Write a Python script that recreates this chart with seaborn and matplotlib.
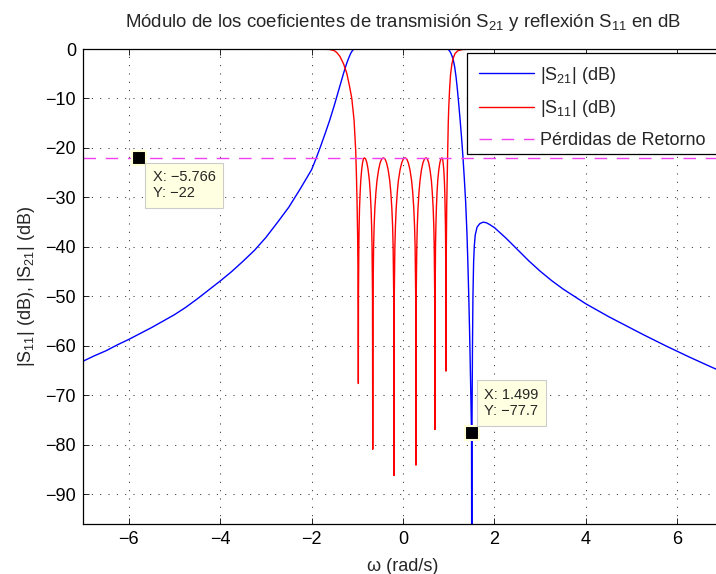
import matplotlib
matplotlib.use("Agg")
import matplotlib.pyplot as plt
from matplotlib.patches import Rectangle
import pandas as pd
import seaborn as sns

# |S21| in dB versus normalized frequency
s21_w = [-7.0, -6.75, -6.5, -6.25, -6.0, -5.75, -5.5, -5.25, -5.0, -4.75, -4.5,
         -4.25, -4.0, -3.75, -3.5, -3.25, -3.0, -2.75, -2.5, -2.25, -2.0, -1.9,
         -1.8, -1.7, -1.6, -1.5, -1.4, -1.3, -1.25, -1.2, -1.15, -1.12, -1.09,
         -1.06, -0.5, 0.0, 0.5, 0.96, 0.99, 1.02, 1.05, 1.08, 1.10, 1.13, 1.16,
         1.19, 1.22, 1.25, 1.28, 1.31, 1.34, 1.37, 1.40, 1.42, 1.44, 1.46, 1.48,
         1.499, 1.505, 1.51, 1.52, 1.53, 1.545, 1.56, 1.58, 1.62, 1.68, 1.75,
         1.82, 1.9, 2.0, 2.25, 2.5, 2.75, 3.0, 3.25, 3.5, 3.75, 4.0, 4.25, 4.5,
         4.75, 5.0, 5.25, 5.5, 5.75, 6.0, 6.25, 6.5, 6.75, 7.0]
s21_db = [-63.1, -62.0, -61.0, -59.8, -58.7, -57.5, -56.3, -55.0, -53.7, -52.2,
          -50.5, -48.7, -46.9, -45.0, -42.9, -40.7, -38.1, -35.1, -32.0, -28.3,
          -24.4, -22.1, -19.6, -17.0, -14.3, -11.3, -8.1, -4.9, -3.4, -2.1, -1.0,
          -0.5, -0.15, 0.0, 0.0, 0.0, 0.0, 0.0, -0.1, -0.4, -0.9, -1.6, -2.2,
          -3.6, -5.6, -8.2, -11.2, -14.4, -17.8, -21.6, -26.0, -30.8, -37.5,
          -43.5, -50.5, -58.5, -68.0, -77.7, -118.0, -75.0, -60.0, -50.0, -43.0,
          -39.8, -37.6, -36.0, -35.3, -35.0, -35.1, -35.5, -36.1, -38.2, -40.5,
          -42.8, -44.9, -46.8, -48.5, -50.0, -51.5, -52.8, -54.1, -55.3, -56.5,
          -57.7, -58.85, -60.0, -61.1, -62.2, -63.25, -64.3, -65.3]

# |S11| in dB versus normalized frequency
s11_w = [-7.0, -2.0, -1.7, -1.6, -1.5, -1.45, -1.38, -1.3, -1.23, -1.17, -1.12,
         -1.07, -1.035, -1.02, -1.005, -0.992, -0.985, -0.980, -0.977,
         -0.974, -0.966, -0.960, -0.951, -0.937, -0.924, -0.904, -0.885, -0.865, -0.845,
         -0.818, -0.790, -0.763, -0.735, -0.717, -0.699, -0.686, -0.677, -0.667, -0.662,
         -0.656, -0.643, -0.632, -0.616, -0.592, -0.569, -0.534, -0.500, -0.465, -0.430,
         -0.395, -0.360, -0.325, -0.290, -0.267, -0.244, -0.227, -0.216, -0.203, -0.197,
         -0.191, -0.178, -0.166, -0.149, -0.125, -0.101, -0.064, -0.028, 0.008, 0.044,
         0.080, 0.116, 0.152, 0.188, 0.212, 0.236, 0.253, 0.265, 0.278, 0.284,
         0.289, 0.302, 0.312, 0.328, 0.350, 0.372, 0.404, 0.437, 0.470, 0.503,
         0.532, 0.562, 0.591, 0.621, 0.640, 0.660, 0.674, 0.683, 0.694, 0.699,
         0.703, 0.711, 0.719, 0.730, 0.745, 0.760, 0.783, 0.806, 0.829, 0.852,
         0.865, 0.878, 0.892, 0.905, 0.914, 0.922, 0.929, 0.933, 0.938, 0.940,
         0.943, 0.948, 0.956, 0.966, 0.975, 0.99, 1.00, 1.02, 1.04, 1.07, 1.10,
         1.14, 1.2, 1.3, 1.5, 7.0]
s11_db = [0.0, -0.02, -0.05, -0.1, -0.35, -0.7, -1.5, -3.0, -4.9, -7.5, -10.0,
          -14.4, -20.5, -25.0, -31.0, -38.0, -45.0, -53.0, -67.6,
          -50.0, -40.0, -35.9, -32.2, -28.9, -26.6, -24.4, -23.0, -22.2, -22.0,
          -22.2, -23.0, -24.4, -26.6, -28.9, -32.2, -35.9, -40.0, -50.0, -80.9,
          -50.0, -40.0, -35.9, -32.2, -28.9, -26.6, -24.4, -23.0, -22.2, -22.0,
          -22.2, -23.0, -24.4, -26.6, -28.9, -32.2, -35.9, -40.0, -50.0, -86.2,
          -50.0, -40.0, -35.9, -32.2, -28.9, -26.6, -24.4, -23.0, -22.2, -22.0,
          -22.2, -23.0, -24.4, -26.6, -28.9, -32.2, -35.9, -40.0, -50.0, -84.1,
          -50.0, -40.0, -35.9, -32.2, -28.9, -26.6, -24.4, -23.0, -22.2, -22.0,
          -22.2, -23.0, -24.4, -26.6, -28.9, -32.2, -35.9, -40.0, -50.0, -76.9,
          -50.0, -40.0, -35.9, -32.2, -28.9, -26.6, -24.4, -23.0, -22.2, -22.0,
          -22.2, -23.0, -24.4, -26.6, -28.9, -32.2, -35.9, -40.0, -50.0, -65.1,
          -50.0, -40.0, -32.0, -26.0, -22.0, -15.0, -12.0, -8.0, -5.2, -3.0, -1.8,
          -0.9, -0.35, -0.1, -0.03, 0.0]

# Return loss level
rl_w = [-7.0, 7.0]
rl_db = [-22.0, -22.0]

# Data cursors
tip_x = [-5.766, 1.499]
tip_y = [-22.0, -77.7]

x_ticks = [-6, -4, -2, 0, 2, 4, 6]
y_ticks = [0, -10, -20, -30, -40, -50, -60, -70, -80, -90]

sns.set_theme(style="ticks")
plt.rcParams["font.family"] = ["Liberation Sans", "DejaVu Sans"]
plt.rcParams["mathtext.fontset"] = "custom"
plt.rcParams["mathtext.rm"] = "Liberation Sans"
plt.rcParams["mathtext.it"] = "Liberation Sans:italic"
plt.rcParams["mathtext.bf"] = "Liberation Sans:bold"

fig = plt.figure(figsize=(7.16, 5.74), dpi=100)
W, H = 716.0, 574.0
ax = fig.add_axes([83 / W, 50 / H, (723 - 83) / W, (524 - 49) / H])

df21 = pd.DataFrame({"w": s21_w, "db": s21_db})
df11 = pd.DataFrame({"w": s11_w, "db": s11_db})
dfrl = pd.DataFrame({"w": rl_w, "db": rl_db})

sns.lineplot(data=df21, x="w", y="db", ax=ax, color="#0000ff", lw=1.0,
             estimator=None, sort=False, label=r"|S$_{21}$| (dB)")
sns.lineplot(data=df11, x="w", y="db", ax=ax, color="#ff0000", lw=1.0,
             estimator=None, sort=False, label=r"|S$_{11}$| (dB)")
sns.lineplot(data=dfrl, x="w", y="db", ax=ax, color="#f040f0", lw=1.0,
             estimator=None, sort=False, label="Pérdidas de Retorno")
ax.lines[-1].set_dashes((9, 7))

ax.set_xlim(-7, 7)
ax.set_ylim(-96, 0)
ax.set_xticks(x_ticks)
ax.set_yticks(y_ticks)
ax.set_xticklabels([str(t).replace("-", "\u2212") for t in x_ticks])
ax.set_yticklabels([str(t).replace("-", "\u2212") for t in y_ticks])

ax.grid(True, color="#333333", lw=0.75, linestyle=(0, (1, 7)))
ax.tick_params(direction="in", length=4.3, width=0.6, top=True, right=True,
               labelsize=13, colors="black", pad=5)
for s in ax.spines.values():
    s.set_visible(True)
    s.set_color("black")
    s.set_linewidth(0.9)

ax.set_title(r"Módulo de los coeficientes de transmisión S$_{21}$ y reflexión S$_{11}$ en dB",
             fontsize=13.4, pad=15.5)
ax.set_xlabel("ω (rad/s)", fontsize=13, labelpad=7)
ax.set_ylabel(r"|S$_{11}$| (dB), |S$_{21}$| (dB)", fontsize=13, labelpad=6)

# Legend box drawn as its own frame so its edges sit independently of the entries
frame = Rectangle((467 / W, 1 - 154 / H), (740 - 467) / W, (154 - 53) / H,
                  transform=fig.transFigure, facecolor="white", edgecolor="black",
                  lw=0.9, clip_on=False, zorder=4.5)
ax.add_patch(frame)
leg = ax.legend(loc="upper left", bbox_to_anchor=(467 / W, 1 - 53 / H),
                bbox_transform=fig.transFigure, borderaxespad=0, fontsize=13,
                frameon=False, handlelength=3.05, handletextpad=0.35,
                labelspacing=0.7, borderpad=0.65)
leg.set_zorder(5)

# Data cursor markers and their value boxes
offsets = [(13.3, -12.3), (12.7, 15.3)]
aligns = [("left", "top"), ("left", "bottom")]
for (tx, ty), (ox, oy), (ha, va) in zip(zip(tip_x, tip_y), offsets, aligns):
    ax.plot([tx], [ty], marker="s", ms=9.4, mfc="black", mec="#ffffd8", mew=1.5,
            ls="none", zorder=6)
    label = f"X: {tx:g}\nY: {ty:g}".replace("-", "\u2212")
    ax.annotate(label, xy=(tx, ty), xytext=(ox, oy), textcoords="offset pixels",
                ha=ha, va=va, fontsize=10.5, linespacing=1.2, zorder=7,
                bbox=dict(boxstyle="square,pad=0.52", fc="#ffffe1", ec="#cccccc", lw=0.8))

fig.savefig("out.png", dpi=100)
